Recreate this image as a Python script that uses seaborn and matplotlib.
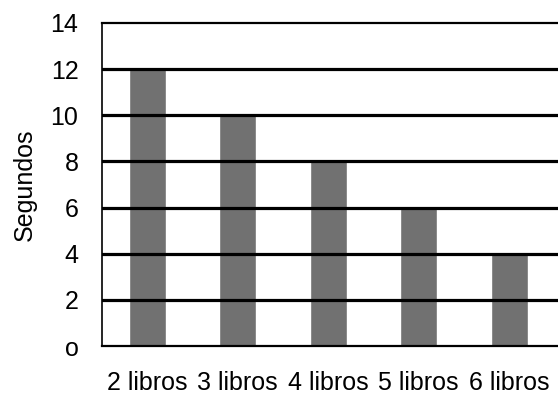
import matplotlib
matplotlib.use("Agg")
import matplotlib.pyplot as plt
import seaborn as sns
import pandas as pd

categories = ["2 libros", "3 libros", "4 libros", "5 libros", "6 libros"]
segundos = [12, 10, 8, 6, 4]
y_ticks = [0, 2, 4, 6, 8, 10, 12, 14]
y_tick_labels = ["o", "2", "4", "6", "8", "10", "12", "14"]

sns.set_theme(style="white")
plt.rcParams["font.family"] = ["Liberation Sans", "DejaVu Sans"]

df = pd.DataFrame({"libros": categories, "segundos": segundos})

fig = plt.figure(figsize=(5.58, 3.96), dpi=100)
ax = fig.add_axes([102 / 558, 50 / 396, 456 / 558, 323 / 396])

sns.barplot(data=df, x="libros", y="segundos", color="#717171",
            saturation=1, width=0.41, ax=ax, zorder=1)

# horizontal gridlines drawn over the bars
for v in y_ticks[1:-1]:
    ax.axhline(v, color="black", lw=2.3, zorder=3)

ax.set_ylim(0, 14)
ax.set_xlim(-0.5, 4.54)
ax.set_yticks(y_ticks)
ax.set_yticklabels(y_tick_labels)
ax.tick_params(axis="y", length=0, pad=17, labelsize=18, colors="black")
ax.tick_params(axis="x", length=0, pad=18, labelsize=18, colors="black")

ax.set_xlabel("")
ax.set_ylabel("Segundos", fontsize=18, color="black")
ax.yaxis.set_label_coords(-0.143, 0.5)

for side in ["left", "bottom", "top"]:
    ax.spines[side].set_visible(True)
    ax.spines[side].set_color("black")
    ax.spines[side].set_zorder(4)
ax.spines["left"].set_linewidth(1.2)
ax.spines["bottom"].set_linewidth(1.6)
ax.spines["top"].set_linewidth(1.6)
ax.spines["right"].set_visible(False)

fig.savefig("out.png", dpi=100, facecolor="white")
